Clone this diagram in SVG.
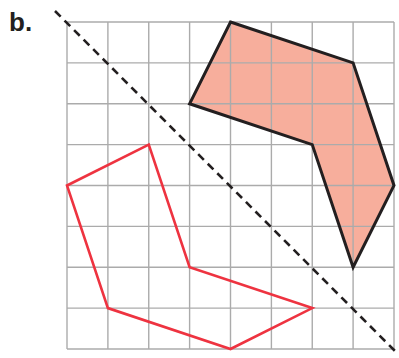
<svg xmlns="http://www.w3.org/2000/svg" width="399" height="358" viewBox="0 0 399 358">
<style>
.grid line{stroke:#ababab;stroke-width:1.4}
.fillshape{fill:#f7ae9c;stroke:none}
.outline{fill:none;stroke:#231f20;stroke-width:3;stroke-linejoin:miter}
.red{fill:none;stroke:#ee3340;stroke-width:2.6;stroke-linejoin:miter}
.mirror{stroke:#231f20;stroke-width:2.6;stroke-dasharray:8,5.5}
</style>
<rect width="399" height="358" fill="#ffffff"/>
<text x="9" y="31" font-family="Liberation Sans, Arial, sans-serif" font-weight="bold" font-size="26" fill="#231f20">b.</text>
<g id="shaded-shape-fill">
<polygon class="fillshape" points="231,22 353.6,62.9 394,185.5 353.6,267.25 312.75,144.6 190,103.75"/>
</g>
<g id="grid" class="grid">
<line x1="67" y1="22" x2="394" y2="22"/>
<line x1="67" y1="62.9" x2="394" y2="62.9"/>
<line x1="67" y1="103.75" x2="394" y2="103.75"/>
<line x1="67" y1="144.6" x2="394" y2="144.6"/>
<line x1="67" y1="185.5" x2="394" y2="185.5"/>
<line x1="67" y1="226.4" x2="394" y2="226.4"/>
<line x1="67" y1="267.25" x2="394" y2="267.25"/>
<line x1="67" y1="308.1" x2="394" y2="308.1"/>
<line x1="67" y1="349" x2="394" y2="349"/>
<line x1="67" y1="22" x2="67" y2="349"/>
<line x1="107.9" y1="22" x2="107.9" y2="349"/>
<line x1="148.75" y1="22" x2="148.75" y2="349"/>
<line x1="189.6" y1="22" x2="189.6" y2="349"/>
<line x1="230.5" y1="22" x2="230.5" y2="349"/>
<line x1="271.4" y1="22" x2="271.4" y2="349"/>
<line x1="312.25" y1="22" x2="312.25" y2="349"/>
<line x1="353.1" y1="22" x2="353.1" y2="349"/>
<line x1="394" y1="22" x2="394" y2="349"/>
</g>
<g id="shaded-shape">
<polygon class="outline" points="230.5,22 353.1,62.9 394,185.5 353.1,267.25 312.25,144.6 189.6,103.75"/>
</g>
<g id="red-shape">
<polygon class="red" points="148.75,144.6 67,185.5 107.9,308.1 230.5,349 312.25,308.1 189.6,267.25"/>
</g>
<g id="mirror-line">
<line class="mirror" x1="55" y1="11" x2="396" y2="352"/>
</g>
</svg>
